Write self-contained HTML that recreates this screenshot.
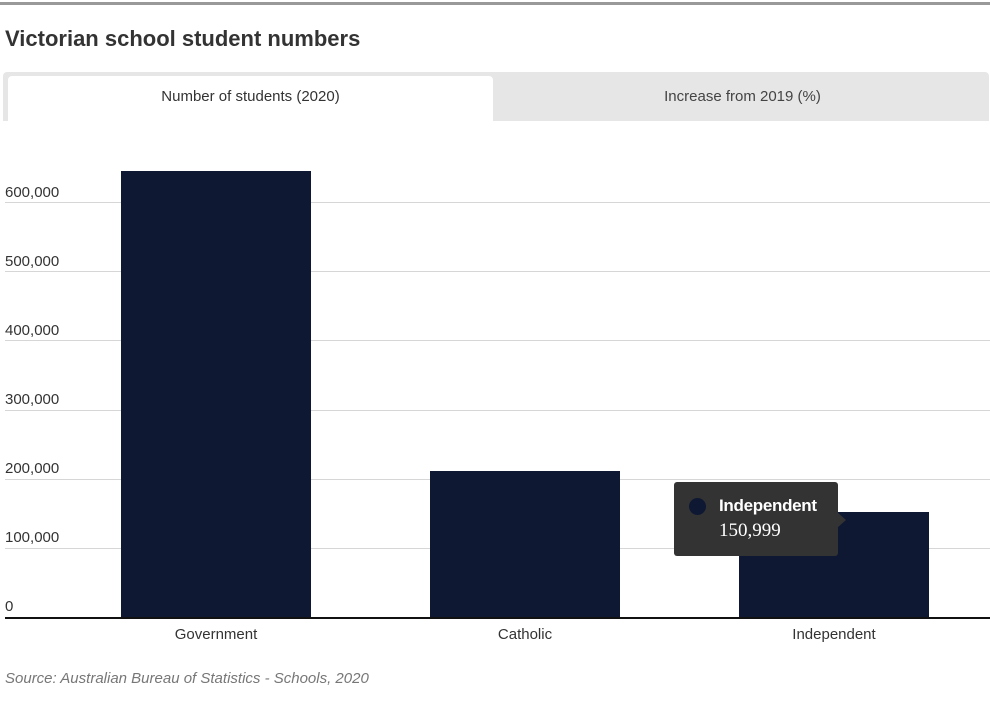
<!DOCTYPE html>
<html><head><meta charset="utf-8"><style>
*{margin:0;padding:0;box-sizing:border-box}
body{width:990px;height:706px;background:#fff;font-family:"Liberation Sans",sans-serif;position:relative;overflow:hidden;color:#333}
.a{position:absolute}
.grid{position:absolute;left:5px;width:985px;height:1px;background:#d6d6d6}
.yl{position:absolute;left:5px;font-size:15px;color:#333}
.bar{position:absolute;background:#0e1833;width:190px}
.xl{position:absolute;font-size:15px;color:#333;width:190px;text-align:center;top:626px}
</style></head><body>
<div class="a" style="left:0;top:2px;width:990px;height:3px;background:#999"></div>
<div class="a" style="left:5px;top:26px;font-size:22px;font-weight:bold;color:#333;letter-spacing:0px">Victorian school student numbers</div>
<div class="a" style="left:3px;top:72px;width:986px;height:49px;background:#e6e6e6;border-radius:4px 4px 0 0"></div>
<div class="a" style="left:8px;top:76px;width:485px;height:45px;background:#fff;border-radius:4px 4px 0 0"></div>
<div class="a" style="left:8px;top:88px;width:485px;text-align:center;font-size:15px;color:#333">Number of students (2020)</div>
<div class="a" style="left:496px;top:88px;width:493px;text-align:center;font-size:15px;color:#444">Increase from 2019 (%)</div>

<div class="grid" style="top:202px"></div>
<div class="grid" style="top:271px"></div>
<div class="grid" style="top:340px"></div>
<div class="grid" style="top:410px"></div>
<div class="grid" style="top:479px"></div>
<div class="grid" style="top:548px"></div>
<div class="yl" style="top:184px">600,000</div>
<div class="yl" style="top:253px">500,000</div>
<div class="yl" style="top:322px">400,000</div>
<div class="yl" style="top:391px">300,000</div>
<div class="yl" style="top:460px">200,000</div>
<div class="yl" style="top:529px">100,000</div>
<div class="yl" style="top:598px">0</div>

<div class="bar" style="left:121px;top:171px;height:447px"></div>
<div class="bar" style="left:430px;top:471px;height:147px"></div>
<div class="bar" style="left:739px;top:512px;height:106px"></div>
<div class="a" style="left:5px;top:617px;width:985px;height:2px;background:#111"></div>

<div class="xl" style="left:121px">Government</div>
<div class="xl" style="left:430px">Catholic</div>
<div class="xl" style="left:739px">Independent</div>

<div class="a" style="left:674px;top:482px;width:164px;height:74px;background:#333;border-radius:3px"></div>
<div class="a" style="left:837px;top:512px;width:0;height:0;border-top:8px solid transparent;border-bottom:8px solid transparent;border-left:9px solid #333"></div>
<div class="a" style="left:689px;top:498px;width:17px;height:17px;border-radius:50%;background:#0e1833"></div>
<div class="a" style="left:719px;top:496px;font-size:17px;font-weight:bold;color:#fff;letter-spacing:-0.3px">Independent</div>
<div class="a" style="left:719px;top:520px;font-size:19px;color:#fff;font-family:'Liberation Serif',serif">150,999</div>

<div class="a" style="left:5px;top:670px;font-size:15px;font-style:italic;color:#777">Source: Australian Bureau of Statistics - Schools, 2020</div>
</body></html>
